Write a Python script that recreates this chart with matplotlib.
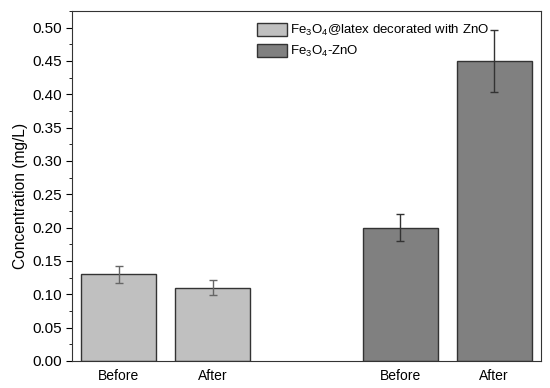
import numpy as np
import matplotlib
matplotlib.use("Agg")
import matplotlib.pyplot as plt
from matplotlib.ticker import MultipleLocator

plt.rcParams['font.family'] = ['Liberation Sans', 'DejaVu Sans']
plt.rcParams['mathtext.fontset'] = 'custom'
plt.rcParams['mathtext.rm'] = 'Liberation Sans'

labels = ['Before', 'After', 'Before', 'After']
latex_vals = [0.13, 0.11]
latex_err = [0.013, 0.011]
zno_vals = [0.20, 0.45]
zno_err = [0.02, 0.046]

pos_latex = [1, 2]
pos_zno = [4, 5]

fig = plt.figure(figsize=(5.5, 3.88), dpi=100)
ax = fig.add_axes([72/550, 27/388, 469/550, 350/388])

ax.bar(pos_latex, latex_vals, width=0.8, color='#c0c0c0', edgecolor='#333333', linewidth=1,
       yerr=latex_err, error_kw=dict(ecolor='#666666', elinewidth=1, capsize=3, capthick=1),
       label=r'Fe$_\mathregular{3}$O$_\mathregular{4}$@latex decorated with ZnO')
ax.bar(pos_zno, zno_vals, width=0.8, color='#808080', edgecolor='#333333', linewidth=1,
       yerr=zno_err, error_kw=dict(ecolor='#333333', elinewidth=1, capsize=3, capthick=1),
       label=r'Fe$_\mathregular{3}$O$_\mathregular{4}$-ZnO')

ax.set_xlim(0.5, 5.5)
ax.set_ylim(0, 0.525)
ax.set_xticks(pos_latex + pos_zno)
ax.set_xticklabels(labels, fontsize=10)
ax.tick_params(axis='x', length=0, pad=6)
ax.yaxis.set_major_locator(MultipleLocator(0.05))
ax.yaxis.set_minor_locator(MultipleLocator(0.025))
ax.yaxis.set_major_formatter(matplotlib.ticker.FormatStrFormatter('%.2f'))
ax.tick_params(axis='y', which='major', length=4, labelsize=11)
ax.tick_params(axis='y', which='minor', length=2)
for s in ax.spines.values():
    s.set_color('#333333')
ax.set_ylabel('Concentration (mg/L)', fontsize=11.2)
ax.yaxis.set_label_coords(-0.093, 0.471)

ax.legend(loc='upper left', bbox_to_anchor=(0.369, 1.0), frameon=False, fontsize=9.5,
          handlelength=2.27, handleheight=1.2, handletextpad=0.25, labelspacing=0.42)

fig.savefig('out.png', dpi=100)
